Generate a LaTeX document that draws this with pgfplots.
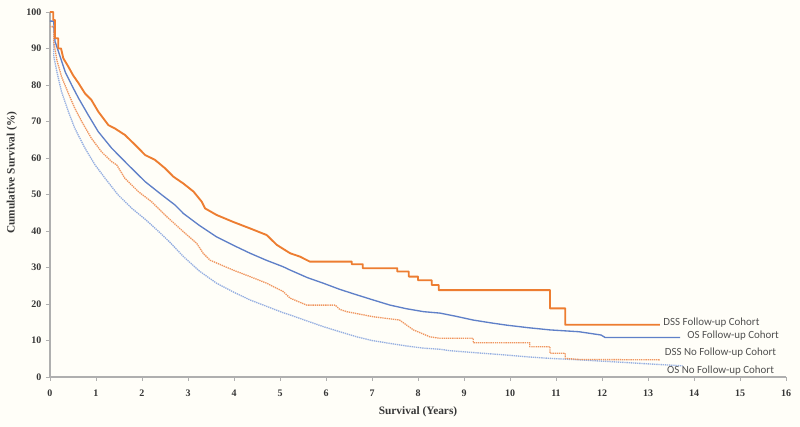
\documentclass[border=0pt]{standalone}
\usepackage{fontspec}
\setmainfont{Liberation Serif}
\newfontfamily\carlito{Carlito}
\usepackage{pgfplots}
\pgfplotsset{compat=1.18}
\definecolor{bgc}{RGB}{255,254,248}
\definecolor{or1}{RGB}{237,125,49}
\definecolor{or2}{RGB}{240,150,95}
\definecolor{bl1}{RGB}{95,128,200}
\definecolor{bl2}{RGB}{150,175,225}
\definecolor{axgray}{RGB}{175,175,175}
\definecolor{txtgray}{RGB}{55,55,55}
\definecolor{lblgray}{RGB}{80,80,80}
\begin{document}
\begin{tikzpicture}
\path[use as bounding box, fill=bgc] (-37.5pt,-37.5pt) rectangle (562.5pt,282.75pt);
\begin{axis}[at={(0,0)}, anchor=south west, scale only axis,
  width=552pt, height=273.75pt,
  xmin=0, xmax=16, ymin=0, ymax=100,
  axis lines=left, axis line style={-, draw=axgray, line width=0.8pt},
  xtick={0,1,...,16}, ytick={0,10,...,100},
  tick style={draw=axgray, line width=0.6pt}, tick align=outside, major tick length=3pt,
  ticklabel style={font=\fontsize{7.5}{9}\selectfont\bfseries, text=txtgray},
  xticklabel style={yshift=-3pt},
  /pgf/number format/assume math mode=true,
  clip=false,
  xlabel={Survival (Years)}, ylabel={Cumulative Survival (\%)},
  xlabel style={font=\fontsize{8.5}{10}\selectfont\bfseries, text=txtgray, at={(axis description cs:0.5,-0.096)}, anchor=center},
  ylabel style={font=\fontsize{8.5}{10}\selectfont\bfseries, text=txtgray, at={(axis description cs:-0.0516,0.56)}, anchor=center},
  line join=round,
]
% OS No Follow-up Cohort
\addplot[bl2, line width=1pt, dash pattern=on 1pt off 0.6pt] coordinates {
(0,96) (0.08,96) (0.08,88) (0.15,83.6) (0.25,78.2) (0.4,72.7) (0.54,68.1) (0.76,62.7) (0.98,58.1)
(1.2,54.4) (1.48,49.9) (1.78,46.2) (2.07,43.2) (2.35,40) (2.6,37) (2.9,33) (3.25,29)
(3.62,25.7) (4.0,23.2) (4.35,21.1) (4.7,19.4) (5.07,17.6) (5.22,17) (5.6,15.3) (5.94,13.8)
(6.3,12.4) (6.67,11) (7.0,10) (7.39,9.2) (7.75,8.5) (8.12,7.9) (8.48,7.6) (8.7,7.2)
(9.2,6.7) (9.93,6) (10.4,5.5) (10.87,5.1) (11.5,4.7) (12.2,4.2) (13.0,3.6) (13.7,3.1) (13.75,3.1)};
% DSS No Follow-up Cohort
\addplot[or2, line width=1pt, dash pattern=on 1pt off 0.6pt] coordinates {
(0,96) (0.08,96) (0.08,92) (0.15,86.8) (0.25,82.3) (0.4,77.7) (0.54,73.6) (0.69,70) (0.9,65.4)
(1.12,61.7) (1.34,59) (1.45,58.1) (1.63,54.4) (1.92,50.8) (2.21,48) (2.54,43.9) (2.9,39.8)
(3.19,36.6) (3.33,33.9) (3.48,32) (3.98,29.3) (4.35,27.5) (4.71,25.7) (5.07,23.4) (5.22,21.6)
(5.58,19.7) (6.2,19.7) (6.3,18.5) (6.45,17.9) (7.03,16.5) (7.6,15.6) (7.9,12.9) (8.26,11) (8.48,10.6)
(9.2,10.6) (9.2,9.4) (10.43,9.4) (10.43,8.3) (10.87,8.3) (10.87,6.5) (11.2,6.5) (11.2,5.1)
(11.5,4.8) (13.26,4.7)};
% OS Follow-up Cohort
\addplot[bl1, line width=1pt] coordinates {
(0,97.5) (0.08,97.5) (0.11,91.9) (0.22,87.8) (0.33,83.6) (0.47,80) (0.62,76.4) (0.83,71.8) (1.05,67.2)
(1.34,62.7) (1.7,58.1) (2.07,53.5) (2.43,49.9) (2.72,47.1) (2.9,44.8) (3.25,41.5) (3.62,38.4)
(4.0,36) (4.35,33.9) (4.7,32) (5.07,30.2) (5.22,29.3) (5.6,27.2) (5.94,25.7) (6.3,24)
(6.67,22.5) (7.0,21.2) (7.39,19.7) (7.75,18.7) (8.12,17.9) (8.48,17.5) (8.8,16.7) (9.2,15.6)
(9.6,14.8) (9.93,14.2) (10.4,13.5) (10.87,12.9) (11.5,12.4) (11.98,11.5) (12.07,10.8) (13.7,10.8)};
% DSS Follow-up Cohort
\addplot[or1, line width=1.4pt] coordinates {
(0,100) (0.07,100) (0.07,97.8) (0.11,97.8) (0.11,92.8) (0.18,92.8) (0.18,90) (0.24,90)
(0.29,87.3) (0.4,85) (0.5,82.7) (0.62,80.5)
(0.76,77.7) (0.9,75.9) (1.05,72.7) (1.27,69) (1.41,68.1) (1.63,66.3) (1.85,63.6) (2.07,60.8)
(2.28,59.5) (2.5,57.2) (2.68,54.9) (2.9,53) (3.12,50.8) (3.3,48) (3.37,46.2) (3.62,44.4)
(3.98,42.5) (4.35,40.7) (4.71,38.9) (4.93,36.2) (5.22,33.9) (5.43,33) (5.65,31.6) (6.56,31.6)
(6.56,30.9) (6.8,30.9) (6.8,29.8) (7.55,29.8) (7.55,28.9) (7.8,28.9) (7.8,27.5) (8.0,27.5)
(8.0,26.5) (8.3,26.5) (8.3,25.2) (8.45,25.2) (8.45,23.8) (10.87,23.8) (10.87,18.8) (11.2,18.8)
(11.2,14.3) (13.26,14.3)};
\node[anchor=west, font=\carlito\fontsize{8.2}{9}\selectfont, text=lblgray, inner sep=1pt] at (axis cs:13.3,14.8) {DSS Follow-up Cohort};
\node[anchor=west, font=\carlito\fontsize{8.2}{9}\selectfont, text=lblgray, inner sep=1pt] at (axis cs:13.82,11.3) {OS Follow-up Cohort};
\node[anchor=west, font=\carlito\fontsize{8.2}{9}\selectfont, text=lblgray, inner sep=1pt] at (axis cs:13.33,6.6) {DSS No Follow-up Cohort};
\node[anchor=west, font=\carlito\fontsize{8.2}{9}\selectfont, text=lblgray, inner sep=1pt] at (axis cs:13.38,1.7) {OS No Follow-up Cohort};
\end{axis}
\end{tikzpicture}
\end{document}
